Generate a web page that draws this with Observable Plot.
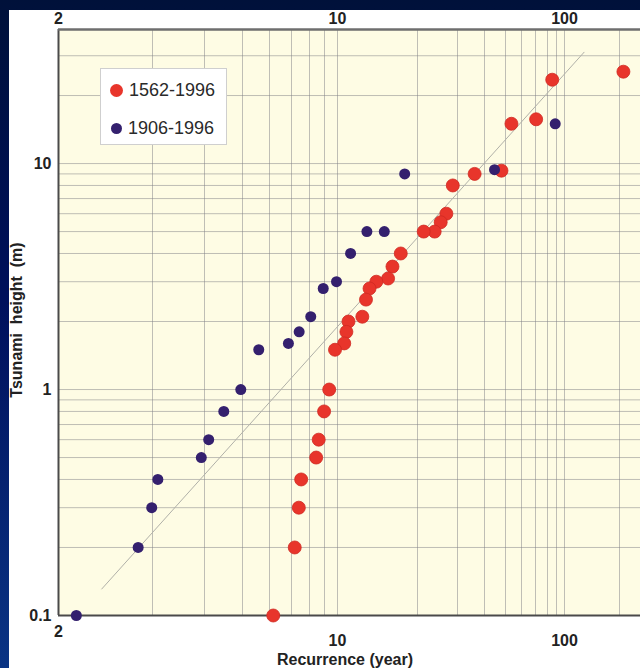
<!DOCTYPE html>
<html>
<head>
<meta charset="utf-8">
<script src="https://cdn.jsdelivr.net/npm/d3@7"></script>
<script src="https://cdn.jsdelivr.net/npm/@observablehq/plot@0.6"></script>
<style>
  html, body { margin: 0; padding: 0; width: 640px; height: 668px; overflow: hidden; }
  body {
    background: linear-gradient(to bottom, #00113a 0%, #00105c 45%, #0a3484 100%);
    position: relative;
    font-family: "Liberation Sans", Arial, Helvetica, sans-serif;
  }
  #panel { position: absolute; left: 9px; top: 10px; width: 631px; height: 658px; background: #ffffff; }
  #chart { position: absolute; left: 0; top: 0; }
  #legend {
    position: absolute; left: 91px; top: 58px; width: 127px; height: 77px;
    background: #ffffff; border: 1px solid #cfcfcf; box-sizing: border-box;
  }
  .item { position: absolute; left: 9px; height: 20px; display: flex; align-items: center; font-size: 18px; color: #2a2a2a; white-space: nowrap; }
  .sw { display: inline-block; border-radius: 50%; margin-right: 6px; }
  #ylabel {
    position: absolute; left: 8px; top: 310px; transform: translate(-50%, -50%) rotate(-90deg);
    font-size: 16px; font-weight: bold; color: #222; white-space: pre;
  }
  #xlabel {
    position: absolute; left: 336px; top: 650px; transform: translate(-50%, -50%);
    font-size: 16px; font-weight: bold; color: #222; white-space: nowrap;
  }
</style>
</head>
<body>
<div id="panel">
  <div id="chart"></div>
  <div id="legend"></div>
  <div id="ylabel"></div>
  <div id="xlabel"></div>
</div>
<script>
// ---- Data ----
const seriesNames = ["1562-1996", "1906-1996"];
const seriesColors = ["#e8352b", "#34206e"];

// 1562-1996 series: recurrence (year) and tsunami height (m)
const redRecurrence = [210, 85.1, 70.5, 53.5, 47.9, 36.0, 28.6, 26.8, 25.3, 23.8, 21.3, 17.3, 16.1, 15.5, 14.0, 13.2, 12.8, 12.4, 11.0, 10.8, 10.6, 9.8, 9.35, 8.97, 8.6, 8.43, 7.52, 7.39, 7.17, 6.16];
const redHeight     = [25.5, 23.5, 15.7, 15, 9.3, 9, 8, 6, 5.5, 5, 5, 4, 3.5, 3.1, 3, 2.8, 2.5, 2.1, 2, 1.8, 1.6, 1.5, 1, 0.8, 0.6, 0.5, 0.4, 0.3, 0.2, 0.1];

// 1906-1996 series
const blueRecurrence = [88.5, 44.5, 17.9, 15.0, 12.9, 11.2, 9.92, 8.91, 8.08, 7.41, 6.85, 5.58, 4.95, 4.48, 4.10, 3.93, 3.09, 2.99, 2.82, 2.16];
const blueHeight     = [15, 9.4, 9, 5, 5, 4, 3, 2.8, 2.1, 1.8, 1.6, 1.5, 1, 0.8, 0.6, 0.5, 0.4, 0.3, 0.2, 0.1];

// Reference (fit) line end points
const fitRecurrence = [2.41, 128];
const fitHeight = [0.131, 31.1];

// Axes
const xTickLabels = [2, 10, 100];
const yTickLabels = [0.1, 1, 10];
const xGridValues = [3, 4, 5, 6, 7, 8, 9, 10, 20, 30, 40, 50, 60, 70, 80, 90, 100, 200];
const yGridValues = [0.2, 0.3, 0.4, 0.5, 0.6, 0.7, 0.8, 0.9, 1, 2, 3, 4, 5, 6, 7, 8, 9, 10, 20, 30];
const yDomain = [0.1, 39.2];
const xLabel = "Recurrence (year)";
const yLabel = "Tsunami  height  (m)";

// The original recurrence axis is not a uniform log axis: calibrate it piecewise (log between grid lines)
const xScaleDomain = [2, 3, 4, 5, 6, 7, 8, 9, 10, 20, 30, 40, 50, 60, 70, 80, 90, 100, 200, 260];
const xScaleRange  = [49, 143, 195, 233, 260, 282, 300, 315, 328, 408, 448, 475, 496, 512, 526, 538, 547, 555, 610, 631];

const red = redRecurrence.map((r, i) => ({recurrence: r, height: redHeight[i]}));
const blue = blueRecurrence.map((r, i) => ({recurrence: r, height: blueHeight[i]}));
const fit = fitRecurrence.map((r, i) => ({recurrence: r, height: fitHeight[i]}));

const gridStyle = {stroke: "#7f7f86", strokeOpacity: 0.5, strokeWidth: 1};
const tickFont = {fontSize: 16, fontWeight: "bold", fill: "#222", tickSize: 0, label: null, tickFormat: d => String(d)};

const chart = Plot.plot({
  width: 631,
  height: 658,
  marginLeft: 49,
  marginRight: 0,
  marginTop: 19,
  marginBottom: 53,
  style: {background: "transparent", fontFamily: "'Liberation Sans', Arial, sans-serif", overflow: "visible"},
  x: {type: "log", domain: xScaleDomain, range: xScaleRange},
  y: {type: "log", domain: yDomain},
  marks: [
    Plot.frame({fill: "#fefce4", stroke: null}),
    Plot.gridX({ticks: xGridValues, ...gridStyle}),
    Plot.gridY({ticks: yGridValues, ...gridStyle}),
    Plot.line(fit, {x: "recurrence", y: "height", stroke: "#b0b0a8", strokeWidth: 1}),
    Plot.ruleX([xScaleDomain[0]], {stroke: "#4a4a4a", strokeWidth: 2}),
    Plot.ruleY([yDomain[0]], {stroke: "#4a4a4a", strokeWidth: 2}),
    Plot.ruleY([yDomain[1]], {stroke: "#6e6e6e", strokeWidth: 2.5}),
    Plot.dot(red, {x: "recurrence", y: "height", r: 6.5, fill: seriesColors[0], stroke: "#cf2a22", strokeWidth: 0.8}),
    Plot.dot(blue, {x: "recurrence", y: "height", r: 5.5, fill: seriesColors[1], stroke: "none"}),
    Plot.axisX({ticks: xTickLabels.slice(0, 1), anchor: "bottom", tickPadding: 10, ...tickFont}),
    Plot.axisX({ticks: xTickLabels.slice(1), anchor: "bottom", tickPadding: 19, ...tickFont}),
    Plot.axisX({ticks: xTickLabels, anchor: "top", tickPadding: 6, ...tickFont}),
    Plot.axisY({ticks: yTickLabels, anchor: "left", tickPadding: 7, ...tickFont})
  ]
});
document.getElementById("chart").append(chart);

// Legend
const legend = document.getElementById("legend");
const legendSizes = [13, 11];
const legendTops = [11, 49];
seriesNames.forEach((name, i) => {
  const item = document.createElement("div");
  item.className = "item";
  item.style.top = legendTops[i] + "px";
  const sw = document.createElement("span");
  sw.className = "sw";
  sw.style.width = legendSizes[i] + "px";
  sw.style.height = legendSizes[i] + "px";
  sw.style.background = seriesColors[i];
  sw.style.marginLeft = (i === 0 ? 0 : 1) + "px";
  item.append(sw, document.createTextNode(name));
  legend.append(item);
});
document.getElementById("xlabel").textContent = xLabel;
document.getElementById("ylabel").textContent = yLabel;
</script>
</body>
</html>
